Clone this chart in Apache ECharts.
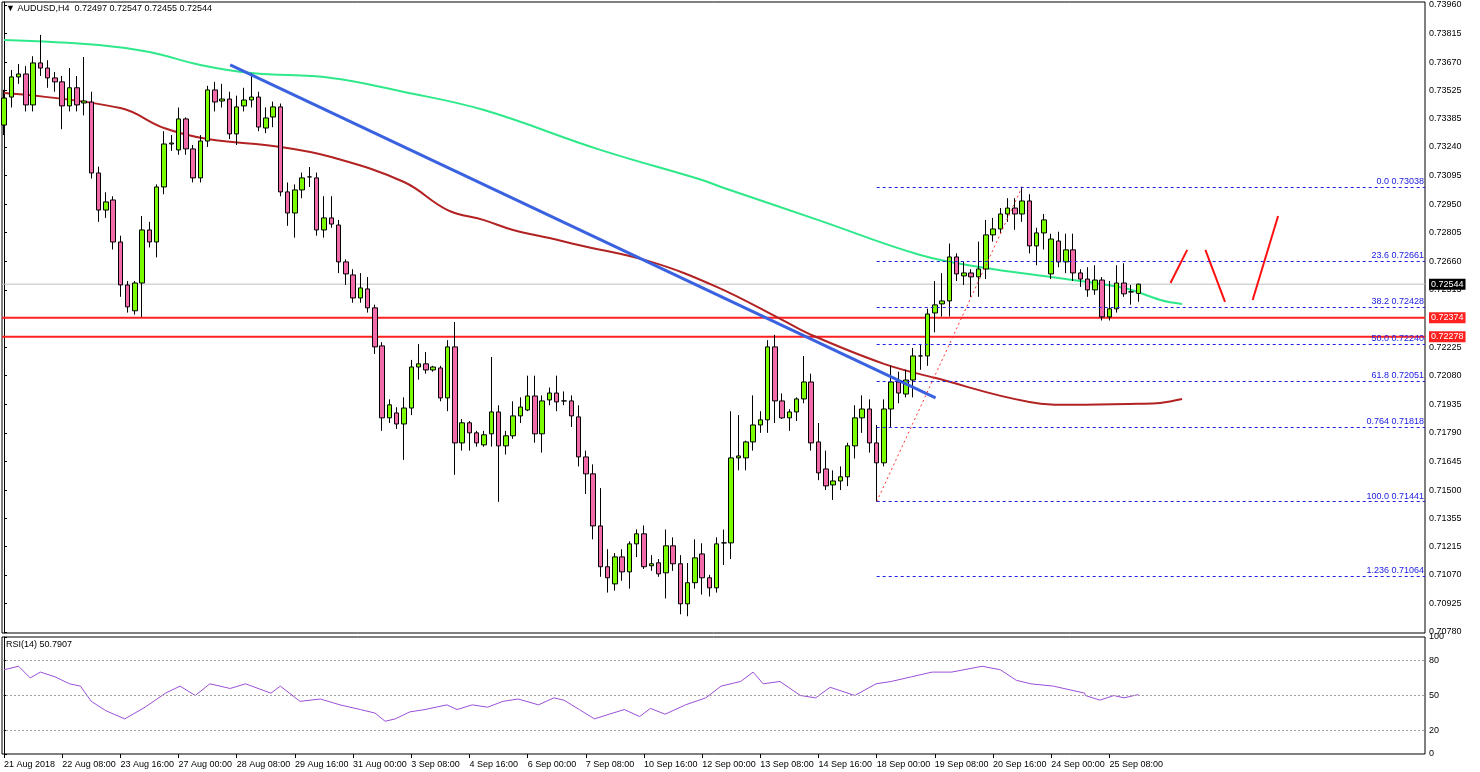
<!DOCTYPE html>
<html><head><meta charset="utf-8">
<script src="https://cdn.jsdelivr.net/npm/echarts@6/dist/echarts.min.js"></script>
<style>html,body{margin:0;padding:0;background:#fff}#c{width:1480px;height:772px}</style>
</head><body><div id="c"></div>
<script>
const dateLabels=['21 Aug 2018','22 Aug 08:00','23 Aug 16:00','27 Aug 00:00','28 Aug 08:00','29 Aug 16:00','31 Aug 00:00','3 Sep 08:00','4 Sep 16:00','6 Sep 00:00','7 Sep 08:00','10 Sep 16:00','12 Sep 00:00','13 Sep 08:00','14 Sep 16:00','18 Sep 00:00','19 Sep 08:00','20 Sep 16:00','24 Sep 00:00','25 Sep 08:00'];
const opens=[.73351,.73493,.73595,.7361,.73453,.73666,.7364,.7359,.7357,.73448,.7354,.73463,.73468,.73108,.7292,.72971,.72758,.7254,.72409,.7255,.72819,.72758,.73037,.73255,.73225,.73382,.7323,.73083,.7327,.73529,.73473,.73483,.73306,.73448,.73478,.73493,.73336,.73392,.73443,.73012,.72905,.73022,.73088,.73083,.72819,.7288,.72844,.72657,.72591,.72474,.7252,.72424,.72231,.71866,.71891,.71835,.71916,.72124,.7214,.72109,.72119,.71967,.72226,.71739,.71841,.7179,.71729,.71785,.71896,.71724,.71775,.71876,.71906,.71977,.71785,.71957,.71992,.71952,.71952,.71871,.71668,.71582,.71318,.71111,.71024,.71161,.71085,.71227,.71278,.71116,.71131,.7108,.71217,.71126,.70923,.7103,.71176,.71055,.71004,.71232,.71232,.71663,.71663,.71744,.7183,.71856,.72226,.71952,.71866,.71896,.71962,.72048,.71744,.71607,.71526,.71546,.71567,.71724,.71866,.71911,.71739,.71638,.71911,.72048,.71987,.72058,.7218,.7218,.72398,.72444,.72459,.72682,.72586,.72601,.72581,.72621,.72794,.72824,.729,.7293,.729,.72966,.72738,.72804,.72596,.72763,.72657,.72718,.72601,.7257,.72515,.72565,.72378,.72419,.7255,.72505,.72497];
const closes=[.73488,.73595,.7361,.73453,.73666,.7364,.7359,.7357,.73448,.7354,.73453,.73473,.73108,.7292,.72961,.72758,.7254,.72429,.7255,.72819,.72758,.73037,.73255,.7326,.73382,.7323,.73083,.7327,.73529,.73468,.73483,.73306,.73443,.73478,.73493,.73341,.73387,.73443,.73012,.72905,.73022,.73083,.73088,.72819,.7288,.72849,.72657,.72596,.72474,.72525,.72424,.72226,.71866,.71932,.71835,.71916,.72124,.7214,.72109,.72124,.71967,.72226,.71739,.71841,.7179,.71739,.7178,.71896,.71724,.71775,.71876,.71921,.71977,.71785,.71952,.71992,.71947,.71952,.71876,.71668,.71582,.71318,.71111,.71055,.71161,.71085,.71227,.71278,.71111,.71126,.71075,.71217,.71126,.70923,.7103,.71156,.71055,.71004,.71227,.71232,.71663,.71673,.71744,.7183,.71856,.72226,.71952,.71866,.71896,.71962,.72048,.71739,.71587,.71521,.71546,.71567,.71724,.71866,.71911,.71739,.71638,.71911,.72048,.71992,.72058,.7218,.7218,.72393,.72439,.72459,.72682,.72596,.72601,.72581,.72621,.72794,.72824,.729,.7293,.729,.72966,.72738,.72804,.7287,.72773,.72657,.72718,.72601,.7257,.72515,.72565,.72378,.72419,.7255,.72495,.72505,.72544];
const highs=[.7353,.7363,.7366,.7365,.737,.73808,.7368,.7362,.736,.7364,.736,.73696,.7352,.7314,.7301,.7299,.7279,.7256,.7256,.7289,.7286,.7305,.7332,.733,.7344,.7339,.7325,.733,.7355,.7357,.7356,.7352,.735,.7354,.73615,.7352,.7344,.7347,.7346,.7306,.7305,.7311,.73138,.7311,.7299,.7299,.7287,.7267,.7262,.726,.7258,.7244,.7225,.7196,.7192,.7197,.7216,.7224,.722,.7213,.7213,.7226,.72352,.7186,.7185,.718,.718,.72175,.7193,.718,.7195,.7197,.7208,.7208,.7198,.7202,.7208,.72,.7198,.7193,.717,.7163,.7151,.712,.7118,.712,.7124,.713,.7132,.7117,.7115,.713,.7126,.7117,.7113,.7125,.7123,.7107,.7126,.713,.719,.7188,.7175,.7198,.719,.7226,.72287,.7199,.7191,.7197,.7218,.7209,.7184,.717,.716,.7162,.7174,.7193,.7198,.7196,.7183,.7196,.7213,.721,.7211,.7222,.7224,.7242,.7256,.726,.7275,.727,.7266,.7262,.7276,.7287,.7288,.7293,.7298,.7298,.73038,.73,.7283,.729,.728,.7281,.728,.728,.7262,.7263,.7264,.7258,.7256,.7264,.7265,.7254,.72547];
const lows=[.733,.7344,.7356,.7342,.7342,.736,.7354,.7352,.7333,.7342,.7342,.734,.7308,.7286,.7288,.7272,.7248,.724,.7239,.72378,.7273,.7268,.73,.7322,.732,.732,.7306,.7306,.7324,.7342,.7344,.7328,.7325,.7342,.7344,.7332,.7331,.7334,.7299,.7284,.7278,.7298,.73037,.7279,.7278,.7283,.726,.7254,.7245,.7245,.724,.7219,.718,.7184,.7181,.71653,.7188,.7206,.7209,.721,.7195,.719,.71577,.717,.717,.7172,.7172,.7172,.7144,.7168,.7176,.7184,.719,.7174,.7169,.7193,.719,.7193,.7182,.7162,.7148,.7125,.7106,.7098,.7099,.7104,.71,.7116,.711,.7109,.7106,.7095,.7109,.7087,.7086,.71,.7097,.7096,.7098,.7112,.7115,.716,.716,.717,.7179,.7179,.7184,.7186,.718,.7185,.7194,.717,.7155,.715,.7145,.715,.7152,.7166,.7179,.7169,.71441,.7162,.7182,.7194,.7197,.7197,.7211,.7213,.723,.7238,.7238,.7256,.7254,.7248,.7248,.7257,.7276,.728,.7286,.7282,.7286,.727,.7264,.7272,.7257,.7263,.726,.7256,.7253,.7248,.7249,.7236,.7236,.724,.7248,.7244,.72455];
const ma1Idx=[0,13,20,27,34,45,55,66,82,96,99,112,126,135,144,154,159,162];
const ma1Val=[.73782,.73757,.73721,.73656,.73615,.7359,.73519,.73427,.73225,.73072,.73032,.72869,.72692,.72626,.7258,.72525,.72464,.72444];
const ma2Idx=[0,16,22,28,38,45,55,61,66,70,75,79,89,98,107,111,121,128,141,147,156,159,162];
const ma2Val=[.73513,.73437,.73336,.7328,.7324,.73189,.73062,.7292,.72869,.72819,.72778,.72743,.72657,.7253,.72363,.72287,.7214,.72069,.71947,.71932,.71937,.71942,.71962];
const rsiIdx=[0,2,3.6,5,7,9,10.5,12,14,16.6,19.4,22.2,24.2,26.3,28.3,31.1,33.2,36.7,38,40.7,43.5,46.2,49,51,52.4,53.8,55.8,57.9,60.9,62.3,64.4,66.5,68.6,70.7,73.5,75.6,77,79.1,81.2,83.2,85.3,87.4,88.9,90.9,93.7,96.5,98.6,101.3,103,104.4,106.7,109.5,111.6,113.6,117,119.9,122,124.8,127.6,130.3,134.5,137,139.2,141.2,144.3,148.6,148.7,150.7,152.6,154,156];
const rsiVal=[72,75,65,70,66,60,58,45,37,30,40,52,58,50,60,56,60,52,58,45,47,42,38,35,28,30,36,38,42,38,42,40,45,47,42,48,46,38,30,34,38,32,39,34,42,48,58,62,70,60,62,50,48,57,50,60,62,66,70,70,75,72,63,60,58,52,50,46,50,48,50.8];
const fibLevels=[0.73038,0.72661,0.72428,0.7224,0.72051,0.71818,0.71441,0.71064];
const fibNames=['0.0','23.6','38.2','50.0','61.8','0.764','100.0','1.236'];
const priceTicks=[0.7396,0.73815,0.7367,0.73525,0.73385,0.7324,0.73095,0.7295,0.72805,0.7266,0.72515,0.72225,0.7208,0.71935,0.7179,0.71645,0.715,0.71355,0.71215,0.7107,0.70925,0.7078];
const supports=[0.72374,0.72278];
const lastPrice=0.72544;
const trend=[[31.1,0.73656],[128.1,0.71967]];
const fibSwing=[[120,0.71441],[140,0.73038]];
const scenario1=[[160.4,0.7255],[162.7,0.72718]];
const scenario2=[[165.2,0.72718],[167.9,0.72454]];
const scenario3=[[171.7,0.72464],[175.2,0.7289]];

const FONT='Liberation Sans';
const XMIN=-0.28, XMAX=195.4;
const candles=opens.map((o,i)=>[i,o,closes[i],lows[i],highs[i]]);
const dateIdx=dateLabels.map((_,k)=>k*8);
const xCommon={type:'value',min:XMIN,max:XMAX,splitLine:{show:false},axisLine:{show:false}};
const chart=echarts.init(document.getElementById('c'));
const fibData=fibLevels.map((v,k)=>[{coord:[120,v],label:{formatter:fibNames[k]+' '+v.toFixed(5)}},{coord:[XMAX,v]}]);
function hline(v,color,width,bg,z){
 return {type:'line',xAxisIndex:0,yAxisIndex:0,data:[[XMIN,v],[XMAX,v]],symbol:'none',z:z,silent:true,
  lineStyle:{color:color,width:width},
  endLabel:{show:true,formatter:v.toFixed(5),backgroundColor:bg,color:'#fff',fontSize:9,padding:[1,2],distance:4}};
}
chart.setOption({
 animation:false,
 textStyle:{fontFamily:FONT},
 grid:[{left:2,right:55,top:2,height:631,show:true,borderColor:'#000',borderWidth:1},
       {left:2,right:55,top:637,height:117,show:true,borderColor:'#000',borderWidth:1}],
 xAxis:[Object.assign({gridIndex:0,axisLabel:{show:false},axisTick:{show:false}},xCommon),
        Object.assign({gridIndex:1,axisLabel:{show:true,customValues:dateIdx,formatter:v=>dateLabels[Math.round(v/8)],fontSize:9,color:'#000',align:'left',margin:6},axisTick:{show:true,customValues:dateIdx,length:4,lineStyle:{color:'#000'}}},xCommon)],
 yAxis:[{gridIndex:0,type:'value',position:'right',min:0.70775,max:0.73975,splitLine:{show:false},axisLine:{show:true,lineStyle:{color:'#000'}},
         axisTick:{show:true,customValues:priceTicks,length:3,lineStyle:{color:'#000'}},axisLabel:{customValues:priceTicks,formatter:v=>v.toFixed(5),fontSize:9,color:'#000',margin:4}},
        {gridIndex:1,type:'value',position:'right',min:0,max:100,splitLine:{show:false},axisLine:{show:true,lineStyle:{color:'#000'}},
         axisTick:{show:true,customValues:[0,20,50,80,100],length:3,lineStyle:{color:'#000'}},axisLabel:{customValues:[0,20,50,80,100],fontSize:9,color:'#000',margin:4}}],
 series:[
  hline(lastPrice,'#c0c0c0',1,'#000',1),
  hline(supports[0],'#ff2020',2,'#ff2020',2),
  hline(supports[1],'#ff2020',2,'#ff2020',2),
  {type:'line',xAxisIndex:0,yAxisIndex:0,data:ma1Idx.map((x,k)=>[x,ma1Val[k]]),smooth:0.4,symbol:'none',lineStyle:{color:'#2ee88a',width:2},z:2},
  {type:'line',xAxisIndex:0,yAxisIndex:0,data:ma2Idx.map((x,k)=>[x,ma2Val[k]]),smooth:0.4,symbol:'none',lineStyle:{color:'#b22222',width:2},z:2},
  {type:'candlestick',xAxisIndex:0,yAxisIndex:0,data:candles,barWidth:5,z:3,
   itemStyle:{color:'#7cfc00',color0:'#f26aa9',borderColor:'#000',borderColor0:'#000',borderWidth:1}},
  {type:'line',xAxisIndex:0,yAxisIndex:0,data:trend,symbol:'none',lineStyle:{color:'#3a62e0',width:3},z:4},
  {type:'line',xAxisIndex:0,yAxisIndex:0,data:fibSwing,symbol:'none',lineStyle:{color:'#ff3030',width:1,type:[2,3]},z:4,
   markLine:{silent:true,symbol:'none',lineStyle:{color:'#2020e0',width:1,type:[3,3]},label:{position:'insideEndTop',color:'#2020e0',fontSize:9,distance:1},data:fibData}},
  {type:'line',xAxisIndex:0,yAxisIndex:0,data:scenario1,symbol:'none',lineStyle:{color:'#ff1010',width:2},z:4},
  {type:'line',xAxisIndex:0,yAxisIndex:0,data:scenario2,symbol:'none',lineStyle:{color:'#ff1010',width:2},z:4},
  {type:'line',xAxisIndex:0,yAxisIndex:0,data:scenario3,symbol:'none',lineStyle:{color:'#ff1010',width:2},z:4},
  {type:'line',xAxisIndex:1,yAxisIndex:1,data:rsiIdx.map((x,k)=>[x,rsiVal[k]]),symbol:'none',lineStyle:{color:'#9b4fd8',width:1},
   markLine:{silent:true,symbol:'none',label:{show:false},lineStyle:{color:'#a0a0a0',type:[2,2],width:1},data:[{yAxis:20},{yAxis:50},{yAxis:80}]}}
 ],
 graphic:[
  {type:'text',left:6,top:4,style:{text:'▼ AUDUSD,H4  0.72497 0.72547 0.72455 0.72544',font:'9px '+FONT,fill:'#000'}},
  {type:'text',left:6,top:640,style:{text:'RSI(14) 50.7907',font:'9px '+FONT,fill:'#000'}}
 ]
});
</script></body></html>
